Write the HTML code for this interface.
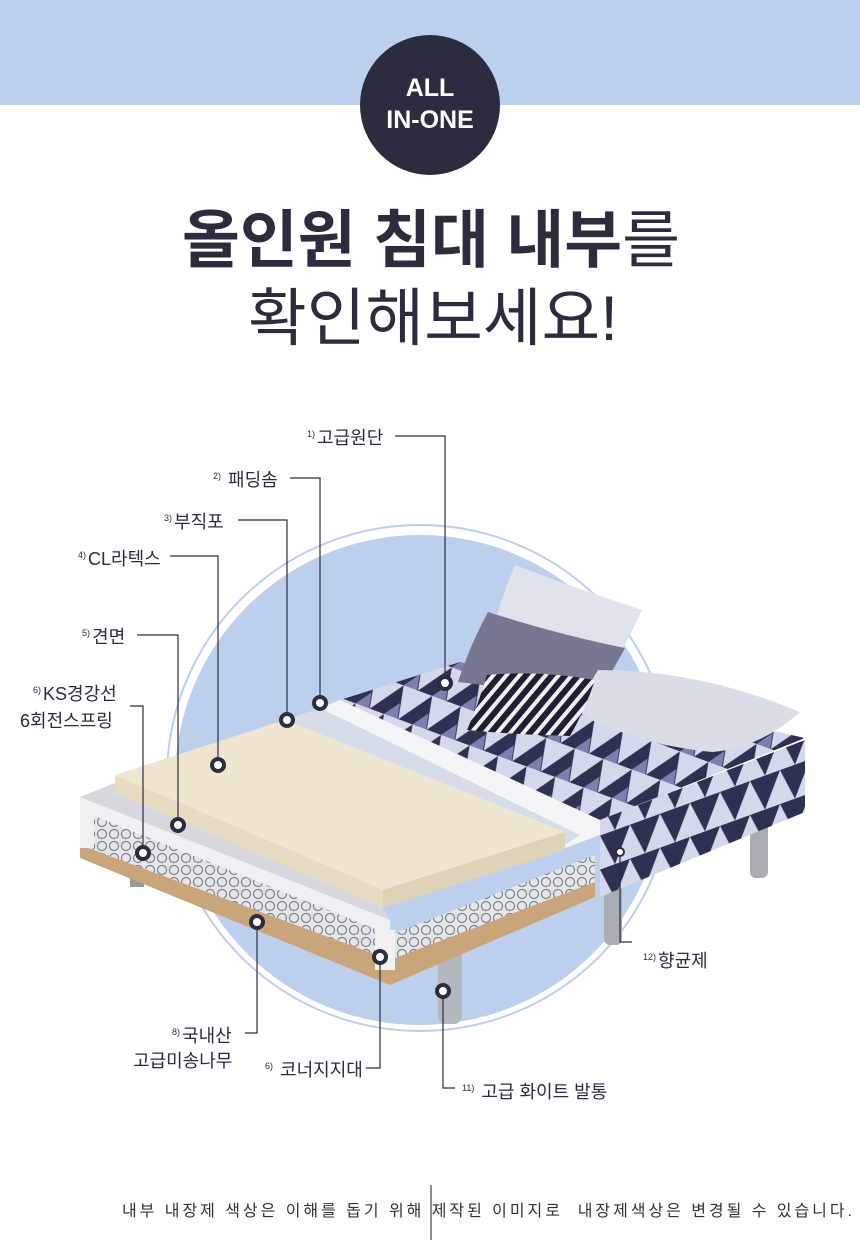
<!DOCTYPE html>
<html><head><meta charset="utf-8"><style>
html,body{margin:0;padding:0;background:#fff;}
body{width:860px;height:1242px;position:relative;overflow:hidden;font-family:"Liberation Sans","Noto Sans CJK KR",sans-serif;}
.t{position:absolute;color:#2b2d3e;font-size:18px;white-space:nowrap;}
.t sup{font-size:9px;vertical-align:7px;margin-right:2px;}
</style></head><body>
<svg width="860" height="1242" style="position:absolute;left:0;top:0">
<defs>
<pattern id="tri" width="34" height="30" patternUnits="userSpaceOnUse" patternTransform="skewX(-20) rotate(18)">
<rect width="34" height="30" fill="#d4d8ec"/>
<polygon points="0,30 17,0 34,30" fill="#2f3152"/>
<polygon points="17,30 25,16 33,30" fill="#7d7fae"/>
</pattern>
<pattern id="tri2" width="30" height="34" patternUnits="userSpaceOnUse" patternTransform="skewY(-20)">
<rect width="30" height="34" fill="#d4d8ec"/>
<polygon points="0,0 30,0 15,34" fill="#2f3152"/>
</pattern>
<pattern id="spr" width="12" height="12" patternUnits="userSpaceOnUse">
<rect width="12" height="12" fill="#e4e6ea"/>
<circle cx="6" cy="6" r="4.5" fill="none" stroke="#7d818a" stroke-width="1.2"/>
</pattern>
<pattern id="str" width="10" height="10" patternUnits="userSpaceOnUse" patternTransform="rotate(40)">
<rect width="10" height="10" fill="#1d1f33"/><rect width="4" height="10" fill="#f2f2f4"/>
</pattern>
</defs>
<rect x="0" y="0" width="860" height="105" fill="#bccfed"/>
<circle cx="430" cy="105" r="70" fill="#2b2d3e"/>
<text x="430" y="96" fill="#fff" font-size="25" font-weight="bold" text-anchor="middle" font-family="Liberation Sans,sans-serif">ALL</text>
<text x="430" y="128" fill="#fff" font-size="25" font-weight="bold" text-anchor="middle" font-family="Liberation Sans,sans-serif">IN-ONE</text>
<text x="431" y="262" fill="#2b2d3e" font-size="63" text-anchor="middle" textLength="498" lengthAdjust="spacingAndGlyphs"><tspan font-weight="bold">올인원 침대 내부</tspan>를</text>
<text x="433" y="340" fill="#2b2d3e" font-size="63" text-anchor="middle" textLength="370" lengthAdjust="spacingAndGlyphs">확인해보세요!</text>
<circle cx="420" cy="778" r="253" fill="none" stroke="#bccfed" stroke-width="2"/>
<circle cx="420" cy="780" r="245" fill="#bccfed"/>
<rect x="604" y="870" width="18" height="75" rx="6" fill="#a9adb4"/>
<rect x="750" y="820" width="18" height="58" rx="6" fill="#a9adb4"/>
<rect x="438" y="950" width="24" height="74" rx="8" fill="#b3b7be"/>
<rect x="130" y="865" width="14" height="22" fill="#999"/>
<polygon points="340,700 460,662 805,738 600,820" fill="url(#tri)"/>
<polygon points="600,820 805,740 805,812 600,897" fill="url(#tri2)"/>
<path d="M515,565 Q580,590 642,610 Q628,640 612,668 Q560,650 490,640 Q500,600 515,565Z" fill="#dfe4ec"/>
<path d="M488,612 Q560,635 625,648 Q605,685 590,705 Q530,690 458,682 Q470,645 488,612Z" fill="#777792"/>
<path d="M598,670 Q700,670 800,712 Q760,748 712,752 Q640,745 582,715 Q585,690 598,670Z" fill="#d8dde6"/>
<path d="M487,675 Q540,670 595,680 Q585,710 570,736 Q520,735 467,730 Q478,705 487,675Z" fill="url(#str)"/>
<polygon points="320,708 340,700 600,820 600,835 565,848" fill="#f4f5f7"/>
<polygon points="285,720 320,708 565,848 560,850" fill="#c9d3e1"/>
<polygon points="285,720 320,708 580,835 565,845" fill="#d6dde8"/>
<polygon points="115,775 285,720 565,832 383,890" fill="#efe6cf"/>
<polygon points="115,775 383,890 383,908 115,793" fill="#e6dcc1"/>
<polygon points="383,890 565,832 565,850 383,908" fill="#ded3b6"/>
<polygon points="80,797 115,783 115,793 383,908 390,920 80,810" fill="#d5d8dc"/>
<polygon points="80,797 80,810 390,935 390,920" fill="#eef0f2"/>
<polygon points="80,810 390,935 390,960 80,845" fill="url(#spr)"/>
<polygon points="80,845 390,960 390,985 80,858" fill="#c9a67a"/>
<polygon points="390,935 595,855 595,895 390,985" fill="url(#spr)"/>
<polygon points="390,960 595,882 595,897 390,985" fill="#c9a67a"/>
<rect x="375" y="930" width="20" height="40" fill="#f1f1f1"/>
<rect x="80" y="808" width="14" height="40" fill="#f1f1f1"/>
<g fill="none" stroke="#2b2d3e" stroke-width="1.2">
<polyline points="395,436 445,436 445,683"/>
<polyline points="290,478 320,478 320,703"/>
<polyline points="238,520 287,520 287,720"/>
<polyline points="170,556 218,556 218,765"/>
<polyline points="137,635 178,635 178,825"/>
<polyline points="130,706 143,706 143,853"/>
<polyline points="257,922 257,1033 245,1033"/>
<polyline points="380,957 380,1068 366,1068"/>
<polyline points="443,991 443,1088 455,1088"/>
<polyline points="620,852 620,942 632,942"/>
</g>
<g fill="#fff" stroke="#2b2d3e" stroke-width="4">
<circle cx="445" cy="683" r="6"/><circle cx="320" cy="703" r="6"/><circle cx="287" cy="720" r="6"/>
<circle cx="218" cy="765" r="6"/><circle cx="178" cy="825" r="6"/><circle cx="143" cy="853" r="6"/>
<circle cx="257" cy="922" r="6"/><circle cx="380" cy="957" r="6"/><circle cx="443" cy="991" r="6"/>
<circle cx="620" cy="852" r="4" stroke-width="2"/>
</g>
<line x1="431" y1="1185" x2="431" y2="1240" stroke="#222" stroke-width="1"/>
<text x="122" y="1216" fill="#333" font-size="16" textLength="730" lengthAdjust="spacing">내부 내장제 색상은 이해를 돕기 위해 제작된 이미지로&#160; 내장제색상은 변경될 수 있습니다.</text>
</svg>
<div class="t" style="left:307px;top:424px"><sup>1)</sup>고급원단</div>
<div class="t" style="left:213px;top:466px"><sup>2)</sup> 패딩솜</div>
<div class="t" style="left:164px;top:508px"><sup>3)</sup>부직포</div>
<div class="t" style="left:78px;top:545px"><sup>4)</sup>CL라텍스</div>
<div class="t" style="left:82px;top:623px"><sup>5)</sup>견면</div>
<div class="t" style="left:33px;top:680px"><sup>6)</sup>KS경강선</div>
<div class="t" style="left:20px;top:707px">6회전스프링</div>
<div class="t" style="left:172px;top:1022px"><sup>8)</sup>국내산</div>
<div class="t" style="left:133px;top:1047px">고급미송나무</div>
<div class="t" style="left:265px;top:1056px"><sup>6)</sup> 코너지지대</div>
<div class="t" style="left:462px;top:1078px"><sup>11)</sup> 고급 화이트 발통</div>
<div class="t" style="left:643px;top:947px"><sup>12)</sup>향균제</div>
</body></html>
